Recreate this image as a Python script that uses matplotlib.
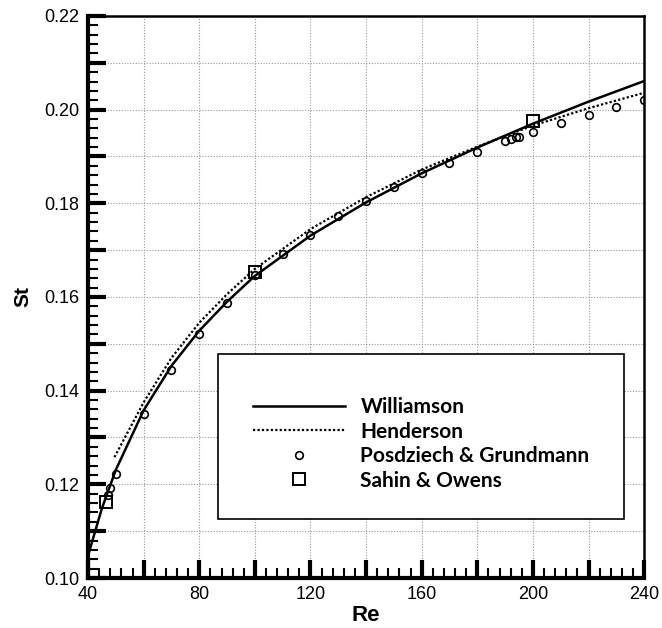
import matplotlib.pyplot as plt
from matplotlib.patches import Rectangle
from matplotlib.ticker import MultipleLocator, FuncFormatter

# ── Data ───────────────────────────────────────────────────────────────────────
will_re = [40, 45, 50, 60, 70, 80, 90, 100, 120, 140, 160, 180, 200, 220, 240]
will_st = [0.1048, 0.1149, 0.1231, 0.1358, 0.1453, 0.1528, 0.1590, 0.1645,
           0.1731, 0.1802, 0.1864, 0.1919, 0.1970, 0.2017, 0.2061]

hend_re = [49.5, 60, 70, 80, 90, 100, 120, 140, 160, 180, 200, 220, 240]
hend_st = [0.1258, 0.1375, 0.1470, 0.1545, 0.1606, 0.1660, 0.1745, 0.1813,
           0.1872, 0.1921, 0.1966, 0.2003, 0.2036]

pg_re = [47, 48, 50, 60, 70, 80, 90, 100, 110, 120, 130, 140, 150, 160, 170,
         180, 190, 192, 194, 195, 200, 210, 220, 230, 240]
pg_st = [0.1178, 0.1192, 0.1222, 0.1350, 0.1444, 0.1521, 0.1587, 0.1647,
         0.1691, 0.1732, 0.1772, 0.1805, 0.1835, 0.1864, 0.1887, 0.1910,
         0.1932, 0.1937, 0.1941, 0.1942, 0.1953, 0.1971, 0.1988, 0.2005, 0.2020]

so_re = [46.5, 100, 200]
so_st = [0.1163, 0.1654, 0.1976]

# ── Figure ─────────────────────────────────────────────────────────────────────
fig = plt.figure(figsize=(6.62, 6.28), dpi=100)
ax = fig.add_axes([0.133, 0.0796, 0.840, 0.895])

ax.plot(will_re, will_st, color='black', lw=1.8, label='Williamson', zorder=3)
ax.plot(hend_re, hend_st, color='black', lw=1.6, ls=(0, (1, 1)),
        label='Henderson', zorder=3)
ax.plot(pg_re, pg_st, ls='none', marker='o', ms=5.5, mfc='none', mec='black',
        mew=1.2, label='Posdziech & Grundmann', zorder=4)
ax.plot(so_re, so_st, ls='none', marker='s', ms=8, mfc='none', mec='black',
        mew=1.4, label='Sahin & Owens', zorder=4)

ax.set_xlim(40, 240)
ax.set_ylim(0.10, 0.22)

# ticks every 20 / 0.01, labels every 40 / 0.02
ax.xaxis.set_major_locator(MultipleLocator(20))
ax.xaxis.set_minor_locator(MultipleLocator(4))
ax.yaxis.set_major_locator(MultipleLocator(0.01))
ax.yaxis.set_minor_locator(MultipleLocator(0.002))
ax.xaxis.set_major_formatter(FuncFormatter(
    lambda v, p: f"{v:.0f}" if round(v) % 40 == 0 else ""))
ax.yaxis.set_major_formatter(FuncFormatter(
    lambda v, p: f"{v:.2f}" if round(v * 100) % 2 == 0 else ""))

ax.tick_params(which='major', direction='in', length=13, width=3,
               top=False, right=False, labelsize=13, pad=6)
ax.tick_params(which='minor', direction='in', length=7, width=1.5,
               top=False, right=False)
for lab in ax.get_xticklabels() + ax.get_yticklabels():
    lab.set_family('Liberation Sans')

for s in ['left', 'bottom']:
    ax.spines[s].set_linewidth(3)
for s in ['top', 'right']:
    ax.spines[s].set_linewidth(1.8)

# grid
for xv in range(60, 240, 20):
    ax.axvline(xv, color='#999999', lw=0.8, ls=(0, (1, 1.5)), zorder=1)
for yv in [0.11, 0.12, 0.13, 0.14, 0.15, 0.16, 0.17, 0.18, 0.19, 0.20, 0.21]:
    ax.axhline(yv, color='#999999', lw=0.8, ls=(0, (1, 1.5)), zorder=1)

ax.set_xlabel('Re', fontsize=16, fontweight='bold', family='Liberation Sans',
              labelpad=1)
ax.set_ylabel('St', fontsize=15, fontweight='bold', family='Liberation Sans',
              labelpad=9)

# legend box
ax.add_patch(Rectangle((0.234, 0.105), 0.730, 0.294, transform=ax.transAxes,
                       facecolor='white', edgecolor='black', lw=1.2, zorder=6))
leg = ax.legend(loc='upper left', bbox_to_anchor=(0.297, 0.322), frameon=False,
                prop={'family': 'Lato', 'weight': 'bold', 'size': 15},
                handlelength=4.4, handletextpad=0.75, labelspacing=0.22,
                borderaxespad=0, borderpad=0)
leg.set_zorder(7)

fig.savefig('out.png', dpi=100)
